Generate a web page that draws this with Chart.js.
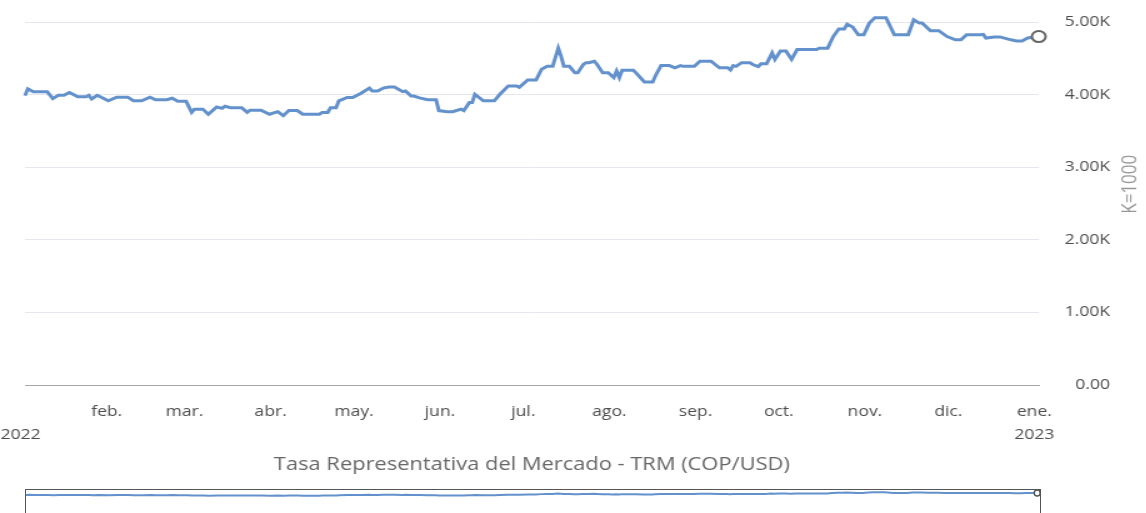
<!DOCTYPE html>
<html>
<head>
<meta charset="utf-8">
<script src="https://cdn.jsdelivr.net/npm/chart.js@4.4.0/dist/chart.umd.min.js"></script>
<style>
  body { margin: 0; background: #fff; overflow: hidden; }
  /* la captura original está estirada a lo ancho */
  #main { position: absolute; left: 0; top: 0; width: 917px; height: 484px; transform: scaleX(1.25); transform-origin: 0 0; }
  #nav { position: absolute; left: 25px; top: 489px; width: 1014px; height: 30px; border: 1px solid #555; border-bottom: none; overflow: hidden; }
  #nav canvas { display: block; }
</style>
</head>
<body>
<div id="main"><canvas id="chart-1"></canvas></div>
<div id="nav"><canvas id="chart-2" width="1014" height="30"></canvas></div>
<script>
// dia del año 2022 (0 = 1 de enero) y TRM en COP/USD
const dias = [
  0, 1, 3, 8, 10, 12, 14, 16, 19, 22,
  23, 24, 26, 30, 33, 37, 39, 42, 45, 47,
  51, 53, 55, 58, 60, 61, 64, 66, 69, 71,
  72, 74, 78, 80, 81, 85, 88, 91, 93, 95,
  98, 100, 106, 107, 109, 110, 112, 113, 116, 118,
  121, 124, 125, 127, 129, 131, 133, 136, 137, 139,
  140, 142, 145, 148, 149, 152, 154, 157, 158, 160,
  161, 162, 165, 169, 171, 174, 177, 178, 181, 184,
  186, 188, 190, 192, 193, 194, 196, 198, 199, 201,
  202, 203, 205, 206, 208, 210, 212, 213, 214, 215,
  219, 220, 223, 226, 227, 229, 232, 234, 236, 237,
  241, 243, 247, 250, 253, 254, 255, 256, 258, 261,
  262, 264, 265, 267, 269, 270, 272, 274, 276, 278,
  285, 286, 289, 291, 293, 295, 296, 298, 300, 302,
  304, 306, 310, 313, 318, 320, 322, 323, 326, 329,
  332, 335, 337, 339, 344, 345, 346, 349, 351, 355,
  357, 359, 361, 365
];
const trm = [
  3986, 4080, 4040, 4040, 3945, 3990, 3990, 4030, 3970, 3970,
  3990, 3940, 3990, 3915, 3965, 3965, 3915, 3915, 3965, 3930,
  3930, 3950, 3910, 3910, 3755, 3800, 3800, 3730, 3830, 3810,
  3840, 3820, 3820, 3755, 3785, 3785, 3730, 3765, 3710, 3780,
  3780, 3730, 3730, 3755, 3755, 3820, 3820, 3915, 3960, 3960,
  4020, 4090, 4050, 4050, 4090, 4105, 4105, 4040, 4050, 3980,
  3980, 3955, 3930, 3930, 3780, 3765, 3765, 3800, 3780, 3890,
  3890, 4005, 3915, 3915, 4005, 4120, 4120, 4100, 4200, 4200,
  4350, 4390, 4390, 4640, 4530, 4390, 4390, 4300, 4300, 4415,
  4440, 4440, 4460, 4415, 4300, 4300, 4235, 4325, 4235, 4335,
  4335, 4300, 4175, 4175, 4260, 4400, 4400, 4370, 4400, 4390,
  4390, 4460, 4460, 4370, 4370, 4340, 4400, 4390, 4440, 4440,
  4415, 4385, 4425, 4425, 4575, 4485, 4600, 4600, 4485, 4620,
  4620, 4640, 4640, 4800, 4905, 4905, 4970, 4930, 4825, 4825,
  4985, 5060, 5060, 4825, 4825, 5030, 4985, 4985, 4880, 4880,
  4800, 4755, 4755, 4825, 4825, 4830, 4780, 4795, 4795, 4755,
  4740, 4740, 4780, 4800
];
const mesesDia = [0, 31, 59, 90, 120, 151, 181, 212, 243, 273, 304, 334, 365];
const mesesLabel = [['', '2022'], 'feb.', 'mar.', 'abr.', 'may.', 'jun.', 'jul.', 'ago.', 'sep.', 'oct.', 'nov.', 'dic.', ['ene.', '2023']];
const yTicks = [0, 1000, 2000, 3000, 4000, 5000];

Chart.defaults.font.family = "'Open Sans', 'Noto Sans', sans-serif";
Chart.defaults.animation = false;

const puntos = dias.map((d, i) => ({ x: d, y: trm[i] }));
const ultimo = trm.length - 1;

const yTitle = {
  id: 'yTitle',
  afterDraw(chart) {
    const ctx = chart.ctx;
    const a = chart.chartArea;
    ctx.save();
    ctx.translate(904, (a.top + a.bottom) / 2 - 12);
    ctx.rotate(-Math.PI / 2);
    ctx.fillStyle = '#999';
    ctx.font = "17px 'Open Sans', 'Noto Sans', sans-serif";
    ctx.textAlign = 'center';
    ctx.textBaseline = 'middle';
    ctx.fillText('K=1000', 0, 0);
    ctx.restore();
  }
};

new Chart(document.getElementById('chart-1'), {
  type: 'line',
  data: {
    datasets: [{
      label: 'TRM',
      data: puntos,
      borderColor: '#6391cc',
      borderWidth: 3,
      tension: 0,
      clip: false,
      pointRadius: trm.map((v, i) => i === ultimo ? 5.5 : 0),
      pointBackgroundColor: '#fff',
      pointBorderColor: '#666',
      pointBorderWidth: 2
    }]
  },
  options: {
    responsive: true,
    maintainAspectRatio: false,
    layout: { padding: { left: 20, top: 4, right: 29, bottom: 4 } },
    plugins: { legend: { display: false }, tooltip: { enabled: false } },
    scales: {
      x: {
        type: 'linear',
        min: 0,
        max: 365,
        afterBuildTicks: axis => { axis.ticks = mesesDia.map(v => ({ value: v })); },
        afterFit: axis => { axis.height = 95; axis.paddingLeft = 0; axis.paddingRight = 0; },
        grid: { display: false, drawTicks: false },
        border: { display: true, color: '#a6a6a6' },
        ticks: {
          autoSkip: false,
          maxRotation: 0,
          padding: 16,
          labelOffset: -3.5,
          color: '#4d4d4d',
          font: { size: 14, lineHeight: 1.6 },
          callback: v => mesesLabel[mesesDia.indexOf(v)]
        },
        title: {
          display: true,
          text: 'Tasa Representativa del Mercado - TRM (COP/USD)',
          color: '#666',
          font: { size: 17.5 },
          padding: { top: 10, bottom: 4 }
        }
      },
      y: {
        position: 'right',
        min: 0,
        max: 5200,
        afterBuildTicks: axis => { axis.ticks = yTicks.map(v => ({ value: v })); },
        afterFit: axis => { axis.width = 57; axis.paddingTop = 0; axis.paddingBottom = 0; },
        grid: { color: '#e6e6ee', drawTicks: false },
        border: { display: false },
        ticks: {
          padding: 4,
          crossAlign: 'far',
          color: '#4d4d4d',
          font: { size: 14 },
          callback: v => v === 0 ? '0.00' : (v / 1000).toFixed(2) + 'K'
        }
      }
    }
  },
  plugins: [yTitle]
});

// navegador
new Chart(document.getElementById('chart-2'), {
  type: 'line',
  data: {
    datasets: [{
      data: puntos,
      borderColor: '#6391cc',
      borderWidth: 2,
      tension: 0,
      clip: false,
      pointRadius: trm.map((v, i) => i === ultimo ? 3 : 0),
      pointBackgroundColor: '#fff',
      pointBorderColor: '#555',
      pointBorderWidth: 1.5
    }]
  },
  options: {
    responsive: false,
    layout: { padding: 0, autoPadding: false },
    plugins: { legend: { display: false }, tooltip: { enabled: false } },
    scales: {
      x: { type: 'linear', display: false, min: 0, max: 366 },
      y: { display: false, min: -6000, max: 6000 }
    }
  }
});
</script>
</body>
</html>
